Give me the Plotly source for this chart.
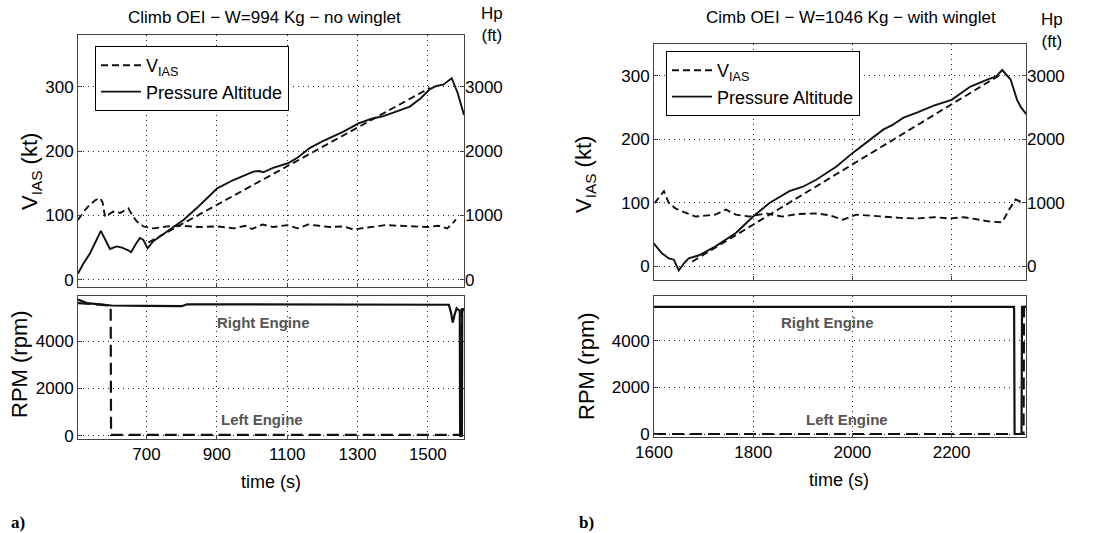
import plotly.graph_objects as go

W, H = 1114, 533

# ---------------- Panel a) data (no winglet) ----------------
t_vias_a = [505, 520, 539, 555, 568, 575, 582, 595, 605, 625, 648, 660, 672, 691, 719, 760, 800, 850, 900,
            950, 980, 1000, 1030, 1060, 1100, 1130, 1160, 1190, 1220, 1260, 1290, 1310, 1340, 1380, 1420,
            1460, 1500, 1530, 1555, 1568, 1580]
vias_a = [93, 105, 117, 124, 127, 120, 98, 103, 106, 104, 111, 100, 91, 83, 80, 83, 84, 82, 83,
          80, 84, 79, 86, 82, 85, 80, 86, 84, 82, 83, 78, 80, 82, 85, 84,
          83, 82, 84, 80, 86, 94]
t_fit_a = [705, 1506]
fit_a = [58, 298]
t_alt_a = [505, 520, 539, 555, 570, 583, 596, 615, 630, 648, 656, 670, 681, 691, 703, 719, 760, 805, 850,
           901, 947, 975, 1004, 1020, 1032, 1060, 1102, 1130, 1165, 1200, 1231, 1260, 1303, 1340, 1374,
           1410, 1449, 1480, 1506, 1525, 1544, 1568, 1585, 1603]
alt_a = [100, 250, 410, 580, 760, 620, 480, 520, 500, 460, 430, 560, 650, 620, 490, 600, 760, 930, 1150,
         1420, 1550, 1620, 1680, 1690, 1670, 1740, 1810, 1900, 2050, 2150, 2230, 2300, 2430, 2500, 2540,
         2610, 2690, 2820, 2960, 3010, 3030, 3130, 2900, 2560]
t_rpm_r_a = [505, 515, 530, 560, 590, 600, 700, 800, 815, 1000, 1200, 1400, 1560, 1566, 1571, 1576,
             1582, 1588, 1591, 1592, 1597, 1598, 1603]
rpm_r_a = [5750, 5700, 5600, 5560, 5530, 5500, 5480, 5470, 5550, 5540, 5530, 5530, 5530, 5200, 4780, 5100,
           5380, 5300, 5300, 0, 0, 5350, 5350]
t_rpm_l_a = [505, 598, 599, 1595, 1597, 1603]
rpm_l_a = [5600, 5500, 40, 40, 5300, 5300]

# ---------------- Panel b) data (with winglet) ----------------
t_vias_b = [1601, 1610, 1620, 1630, 1643, 1657, 1684, 1724, 1745, 1765, 1792, 1826, 1859, 1890, 1927,
            1955, 1981, 2008, 2035, 2062, 2095, 2130, 2165, 2197, 2225, 2251, 2278, 2302, 2316, 2329, 2346]
vias_b = [99, 108, 118, 99, 91, 86, 78, 81, 89, 81, 78, 83, 78, 82, 83,
          80, 73, 81, 79, 78, 76, 75, 77, 75, 77, 73, 70, 69, 89, 105, 99]
t_fit_b = [1677, 2295]
fit_b = [7, 300]
t_alt_b = [1599, 1616, 1630, 1640, 1650, 1660, 1670, 1691, 1724, 1765, 1800, 1832, 1873, 1900, 1927,
           1968, 2000, 2035, 2062, 2080, 2103, 2130, 2164, 2200, 2238, 2272, 2290, 2302, 2319, 2332,
           2340, 2351]
alt_b = [360, 200, 120, 100, -70, 40, 120, 170, 310, 520, 780, 990, 1180, 1250, 1360,
         1570, 1780, 1990, 2150, 2220, 2340, 2420, 2530, 2620, 2830, 2940, 2990, 3090, 2940, 2620,
         2500, 2390]
t_rpm_r_b = [1600, 2326, 2327, 2341, 2342, 2350]
rpm_r_b = [5450, 5450, 0, 0, 5450, 5450]
t_rpm_l_b = [1600, 2345, 2346, 2350]
rpm_l_b = [0, 0, 5450, 5450]

# tick definitions
vias_ticks = [0, 100, 200, 300]
alt_ticks = [0, 1000, 2000, 3000]
rpm_ticks = [0, 2000, 4000]
time_ticks_a = [700, 900, 1100, 1300, 1500]
time_ticks_b = [1600, 1800, 2000, 2200]

FONT = "Liberation Sans, Arial, sans-serif"
BLACK = "#111111"
FRAME = "#444444"


def px_x(p):
    return p / W


def px_y(p):
    return 1 - p / H


fig = go.Figure()

LW = 1.9
DASH_THIN = "7px,4px"
DASH_RPM = "12px,6px"

# panel a traces
fig.add_trace(go.Scatter(x=t_vias_a, y=vias_a, mode="lines", name="V<sub>IAS</sub>",
                         line=dict(color=BLACK, width=LW, dash=DASH_THIN), xaxis="x", yaxis="y",
                         legend="legend"))
fig.add_trace(go.Scatter(x=t_fit_a, y=fit_a, mode="lines", showlegend=False,
                         line=dict(color=BLACK, width=LW, dash=DASH_THIN), xaxis="x", yaxis="y"))
fig.add_trace(go.Scatter(x=t_alt_a, y=alt_a, mode="lines", name="Pressure Altitude",
                         line=dict(color=BLACK, width=LW), xaxis="x", yaxis="y2", legend="legend"))
fig.add_trace(go.Scatter(x=t_rpm_r_a, y=rpm_r_a, mode="lines", showlegend=False,
                         line=dict(color=BLACK, width=2.2), xaxis="x2", yaxis="y3"))
fig.add_trace(go.Scatter(x=t_rpm_l_a, y=rpm_l_a, mode="lines", showlegend=False,
                         line=dict(color=BLACK, width=2.2, dash=DASH_RPM), xaxis="x2", yaxis="y3"))

# panel b traces
fig.add_trace(go.Scatter(x=t_vias_b, y=vias_b, mode="lines", name="V<sub>IAS</sub>",
                         line=dict(color=BLACK, width=LW, dash=DASH_THIN), xaxis="x3", yaxis="y4",
                         legend="legend2"))
fig.add_trace(go.Scatter(x=t_fit_b, y=fit_b, mode="lines", showlegend=False,
                         line=dict(color=BLACK, width=LW, dash=DASH_THIN), xaxis="x3", yaxis="y4"))
fig.add_trace(go.Scatter(x=t_alt_b, y=alt_b, mode="lines", name="Pressure Altitude",
                         line=dict(color=BLACK, width=LW), xaxis="x3", yaxis="y5", legend="legend2"))
fig.add_trace(go.Scatter(x=t_rpm_r_b, y=rpm_r_b, mode="lines", showlegend=False,
                         line=dict(color=BLACK, width=2.2), xaxis="x4", yaxis="y6"))
fig.add_trace(go.Scatter(x=t_rpm_l_b, y=rpm_l_b, mode="lines", showlegend=False,
                         line=dict(color=BLACK, width=2.2, dash=DASH_RPM), xaxis="x4", yaxis="y6"))

tickfont = dict(family=FONT, size=17, color="black")
common = dict(showline=True, linecolor=FRAME, linewidth=1, mirror=True, ticks="inside", ticklen=4,
              tickcolor=FRAME, tickfont=tickfont, zeroline=False, automargin=False,
              showgrid=True, gridcolor="#222222", gridwidth=1, griddash="1px,4px")
right_common = dict(showgrid=False, zeroline=False, ticks="inside", ticklen=4, tickcolor=FRAME,
                    tickfont=tickfont, showline=False, automargin=False)

xa_dom = [px_x(78), px_x(464)]
xb_dom = [px_x(654), px_x(1026)]

fig.update_layout(
    width=W, height=H, margin=dict(l=0, r=0, t=0, b=0, pad=0, autoexpand=False),
    paper_bgcolor="white", plot_bgcolor="white",
    font=dict(family=FONT, color="black"),
    xaxis=dict(domain=xa_dom, range=[505, 1603], anchor="y", tickvals=time_ticks_a,
               showticklabels=False, **common),
    yaxis=dict(domain=[px_y(287), px_y(35)], range=[-11, 380], anchor="x", tickvals=vias_ticks, **common),
    yaxis2=dict(overlaying="y", side="right", anchor="x", range=[-110, 3800], tickvals=alt_ticks,
                **right_common),
    xaxis2=dict(domain=xa_dom, range=[505, 1603], anchor="y3", tickvals=time_ticks_a, **common),
    yaxis3=dict(domain=[px_y(439), px_y(296)], range=[-130, 5900], anchor="x2", tickvals=rpm_ticks,
                **common),
    xaxis3=dict(domain=xb_dom, range=[1600, 2350], anchor="y4", tickvals=time_ticks_b,
                showticklabels=False, **common),
    yaxis4=dict(domain=[px_y(280), px_y(44)], range=[-22, 350], anchor="x3", tickvals=vias_ticks, **common),
    yaxis5=dict(overlaying="y4", side="right", anchor="x3", range=[-220, 3500], tickvals=alt_ticks,
                **right_common),
    xaxis4=dict(domain=xb_dom, range=[1600, 2350], anchor="y6", tickvals=time_ticks_b, **common),
    yaxis6=dict(domain=[px_y(437), px_y(296)], range=[-128, 5915], anchor="x4", tickvals=rpm_ticks,
                **common),
    legend=dict(x=px_x(95), y=px_y(46), xanchor="left", yanchor="top", bgcolor="white",
                bordercolor="black", borderwidth=1, font=dict(family=FONT, size=18, color="black"),
                tracegroupgap=0, itemwidth=40),
    legend2=dict(x=px_x(666), y=px_y(51), xanchor="left", yanchor="top", bgcolor="white",
                 bordercolor="black", borderwidth=1, font=dict(family=FONT, size=18, color="black"),
                 tracegroupgap=0, itemwidth=40),
    showlegend=True,
)

ann = []


def pann(text, x, y, size, angle=0, **kw):
    ann.append(dict(text=text, x=px_x(x), y=px_y(y), xref="paper", yref="paper", showarrow=False,
                    textangle=angle, font=dict(family=kw.pop("family", FONT), size=size,
                                               color=kw.pop("color", "black")),
                    xanchor="center", yanchor="middle", **kw))


# titles
pann("Climb OEI \u2212 W=994 Kg \u2212 no winglet", 264, 17, 17)
pann("Cimb OEI \u2212 W=1046 Kg \u2212 with winglet", 851, 17, 17)
# right axis titles
pann("Hp<br>(ft)", 492, 25, 17)
pann("Hp<br>(ft)", 1052, 31, 17)
# y titles
pann("V<sub>IAS</sub> (kt)", 31, 172, 22, angle=-90)
pann("V<sub>IAS</sub> (kt)", 585, 175, 22, angle=-90)
pann("RPM (rpm)", 19, 364, 22, angle=-90)
pann("RPM (rpm)", 586, 366, 22, angle=-90)
# x titles
pann("time (s)", 271, 482, 18)
pann("time (s)", 839, 480, 18)
# panel labels
pann("<b>a)</b>", 18, 522, 17, family="Liberation Serif, Times New Roman, serif")
pann("<b>b)</b>", 586, 522, 17, family="Liberation Serif, Times New Roman, serif")

# engine labels placed in data coordinates
for txt, xx, yy, xr, yr in [
    ("<b>Right Engine</b>", 1032, 4780, "x2", "y3"),
    ("<b>Left Engine</b>", 1029, 690, "x2", "y3"),
    ("<b>Right Engine</b>", 1950, 4780, "x4", "y6"),
    ("<b>Left Engine</b>", 1990, 640, "x4", "y6"),
]:
    ann.append(dict(text=txt, x=xx, y=yy, xref=xr, yref=yr, showarrow=False,
                    font=dict(family=FONT, size=15, color="#555555")))

fig.update_layout(annotations=ann)

fig.write_html("out.html")
